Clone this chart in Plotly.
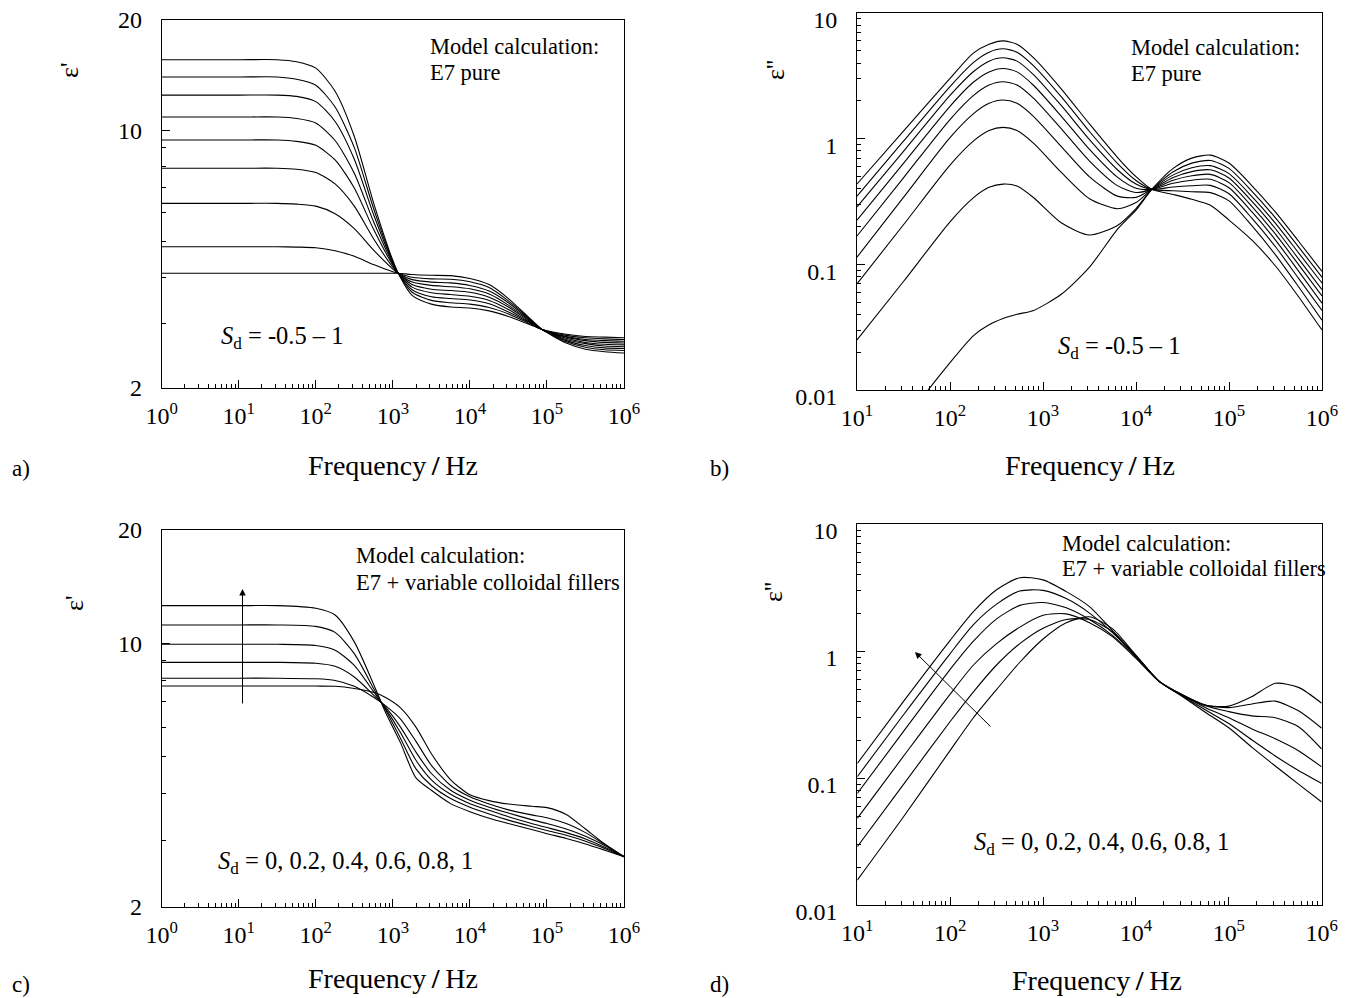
import plotly.graph_objects as go

# The page body adds an 8 px margin; the figure is sized / shifted to compensate.
OFF = 8
W, H = 1347 - OFF, 998 - OFF

# ---------------- panel a: eps' , E7 pure ----------------
freq_a = [1, 10, 31.6, 56.2, 100, 178, 316, 562, 1000, 1175, 1778, 3162, 5623, 10000,
          17783, 31623, 56234, 85114, 177828, 316228, 562341, 1000000]
a_1 = [15.6, 15.6, 15.6, 15.4, 14.8, 12.8, 9.65, 6.37, 4.44, 4.1, 3.57, 3.38, 3.32, 3.30, 3.24, 3.13, 2.99, 2.89, 2.80, 2.76, 2.75, 2.74]
a_2 = [14.0, 14.0, 14.0, 13.8, 13.3, 11.6, 9.0, 6.15, 4.41, 4.1, 3.64, 3.46, 3.41, 3.38, 3.31, 3.18, 3.01, 2.89, 2.78, 2.74, 2.72, 2.71]
a_3 = [12.5, 12.5, 12.5, 12.4, 12.0, 10.6, 8.37, 5.92, 4.38, 4.1, 3.70, 3.54, 3.50, 3.47, 3.39, 3.22, 3.03, 2.89, 2.76, 2.71, 2.69, 2.68]
a_4 = [10.9, 10.9, 10.9, 10.8, 10.5, 9.41, 7.67, 5.66, 4.35, 4.1, 3.76, 3.63, 3.59, 3.55, 3.46, 3.27, 3.04, 2.89, 2.75, 2.69, 2.66, 2.65]
a_5 = [9.44, 9.44, 9.44, 9.36, 9.13, 8.33, 6.99, 5.40, 4.31, 4.1, 3.82, 3.71, 3.68, 3.64, 3.53, 3.32, 3.06, 2.89, 2.73, 2.66, 2.63, 2.62]
a_6 = [7.91, 7.91, 7.91, 7.86, 7.70, 7.17, 6.24, 5.09, 4.26, 4.1, 3.88, 3.80, 3.77, 3.72, 3.60, 3.36, 3.08, 2.89, 2.71, 2.64, 2.60, 2.59]
a_7 = [6.35, 6.35, 6.35, 6.32, 6.24, 5.95, 5.42, 4.74, 4.21, 4.1, 3.94, 3.88, 3.86, 3.80, 3.67, 3.41, 3.10, 2.89, 2.69, 2.61, 2.57, 2.56]
a_8 = [4.84, 4.84, 4.84, 4.83, 4.81, 4.72, 4.56, 4.33, 4.14, 4.1, 4.00, 3.96, 3.95, 3.89, 3.75, 3.45, 3.12, 2.89, 2.67, 2.58, 2.54, 2.53]
a_9 = [4.1, 4.1, 4.1, 4.1, 4.1, 4.1, 4.1, 4.1, 4.1, 4.1, 4.07, 4.05, 4.04, 3.97, 3.82, 3.50, 3.13, 2.89, 2.65, 2.55, 2.51, 2.49]

# ---------------- panel b: eps'' , E7 pure ----------------
freq_b = [10, 31.6, 100, 178, 263, 372, 525, 794, 1585, 3162, 6310, 10000, 14791,
          25119, 39811, 63096, 100000, 177828, 316228, 562341, 1000000]
b_1 = [0.436, 1.15, 3.02, 4.8, 5.64, 6.0, 5.64, 4.39, 2.47, 1.31, 0.711, 0.498, 0.395, 0.36, 0.33, 0.295, 0.225, 0.155, 0.097, 0.055, 0.030]
b_2 = [0.349, 0.955, 2.60, 4.03, 4.88, 5.19, 4.88, 3.80, 2.14, 1.14, 0.637, 0.465, 0.395, 0.385, 0.378, 0.372, 0.320, 0.201, 0.119, 0.066, 0.036]
b_3 = [0.286, 0.792, 2.21, 3.41, 4.14, 4.40, 4.14, 3.22, 1.82, 0.982, 0.566, 0.435, 0.395, 0.413, 0.422, 0.425, 0.364, 0.231, 0.138, 0.077, 0.043]
b_4 = [0.225, 0.636, 1.81, 2.81, 3.40, 3.62, 3.40, 2.65, 1.50, 0.822, 0.494, 0.403, 0.395, 0.442, 0.467, 0.475, 0.407, 0.260, 0.156, 0.088, 0.049]
b_5 = [0.168, 0.488, 1.42, 2.20, 2.67, 2.84, 2.67, 2.09, 1.19, 0.663, 0.423, 0.373, 0.395, 0.467, 0.507, 0.52, 0.447, 0.287, 0.174, 0.099, 0.056]
b_6 = [0.114, 0.341, 1.02, 1.575, 1.91, 2.03, 1.91, 1.50, 0.860, 0.497, 0.349, 0.341, 0.395, 0.491, 0.547, 0.565, 0.487, 0.315, 0.192, 0.110, 0.063]
b_7 = [0.070, 0.2065, 0.616, 0.955, 1.16, 1.23, 1.16, 0.917, 0.536, 0.333, 0.277, 0.310, 0.395, 0.515, 0.587, 0.61, 0.527, 0.344, 0.212, 0.123, 0.071]
b_8 = [0.025, 0.073, 0.218, 0.338, 0.41, 0.435, 0.42, 0.339, 0.213, 0.171, 0.204, 0.278, 0.395, 0.545, 0.639, 0.67, 0.58, 0.379, 0.234, 0.137, 0.079]
b_9 = [0.0016, 0.0055, 0.0165, 0.027, 0.033, 0.037, 0.040, 0.043, 0.058, 0.095, 0.19, 0.27, 0.395, 0.58, 0.70, 0.74, 0.64, 0.42, 0.26, 0.152, 0.088]

# ---------------- panel c: eps' , E7 + fillers ----------------
freq_c = [1, 10, 31.6, 100, 178, 316, 562, 794, 1259, 1995, 3162, 5623, 10000,
          17783, 31623, 63096, 100000, 177828, 316228, 562341, 1000000]
c_1 = [12.6, 12.6, 12.6, 12.4, 11.9, 10.1, 7.8, 6.6, 5.45, 4.4, 4.08, 3.76, 3.58, 3.44, 3.33, 3.21, 3.13, 3.04, 2.94, 2.83, 2.72]
c_2 = [11.2, 11.2, 11.2, 11.1, 10.7, 9.4, 7.6, 6.7, 5.6, 4.65, 4.2, 3.88, 3.68, 3.53, 3.40, 3.27, 3.19, 3.10, 2.99, 2.86, 2.72]
c_3 = [9.95, 9.95, 9.95, 9.88, 9.6, 8.75, 7.45, 6.75, 5.8, 4.9, 4.35, 3.98, 3.76, 3.61, 3.47, 3.33, 3.25, 3.15, 3.03, 2.88, 2.72]
c_4 = [8.91, 8.91, 8.91, 8.86, 8.7, 8.15, 7.3, 6.8, 6.0, 5.15, 4.52, 4.08, 3.84, 3.68, 3.55, 3.41, 3.33, 3.22, 3.08, 2.91, 2.72]
c_5 = [8.09, 8.09, 8.09, 8.06, 7.98, 7.7, 7.2, 6.85, 6.3, 5.5, 4.75, 4.2, 3.92, 3.75, 3.62, 3.51, 3.45, 3.33, 3.15, 2.93, 2.72]
c_6 = [7.71, 7.71, 7.71, 7.71, 7.70, 7.6, 7.42, 7.2, 6.75, 6.0, 5.1, 4.35, 3.97, 3.83, 3.75, 3.70, 3.67, 3.52, 3.22, 2.94, 2.72]

# ---------------- panel d: eps'' , E7 + fillers ----------------
freq_d = [10, 31.6, 100, 178, 316, 562, 1000, 1778, 3162, 5623, 10000, 17783, 31623,
          56234, 100000, 177828, 316228, 562341, 1000000]
d_1 = [0.131, 0.405, 1.22, 2.05, 3.05, 3.80, 3.65, 2.95, 2.25, 1.45, 0.93, 0.58, 0.44, 0.33, 0.25, 0.175, 0.125, 0.09, 0.065]
d_2 = [0.103, 0.318, 0.96, 1.62, 2.35, 2.98, 3.02, 2.6, 2.0, 1.40, 0.92, 0.58, 0.445, 0.345, 0.27, 0.20, 0.15, 0.115, 0.091]
d_3 = [0.076, 0.235, 0.72, 1.2, 1.8, 2.3, 2.42, 2.2, 1.78, 1.33, 0.90, 0.58, 0.45, 0.36, 0.30, 0.245, 0.205, 0.165, 0.123]
d_4 = [0.0484, 0.150, 0.46, 0.78, 1.15, 1.55, 1.92, 1.97, 1.68, 1.30, 0.88, 0.58, 0.455, 0.372, 0.335, 0.31, 0.30, 0.255, 0.170]
d_5 = [0.0289, 0.090, 0.28, 0.48, 0.78, 1.15, 1.52, 1.78, 1.78, 1.42, 0.90, 0.58, 0.455, 0.378, 0.36, 0.385, 0.405, 0.34, 0.248]
d_6 = [0.0158, 0.050, 0.166, 0.30, 0.50, 0.82, 1.25, 1.68, 1.87, 1.50, 0.93, 0.58, 0.45, 0.375, 0.37, 0.44, 0.56, 0.52, 0.39]

# tick labels
x_ticks_a = [1, 10, 100, 1000, 10000, 100000, 1000000]
x_text_a = ["10<sup>0</sup>", "10<sup>1</sup>", "10<sup>2</sup>", "10<sup>3</sup>",
            "10<sup>4</sup>", "10<sup>5</sup>", "10<sup>6</sup>"]
x_ticks_b = [10, 100, 1000, 10000, 100000, 1000000]
x_text_b = ["10<sup>1</sup>", "10<sup>2</sup>", "10<sup>3</sup>",
            "10<sup>4</sup>", "10<sup>5</sup>", "10<sup>6</sup>"]
y_ticks_ac = [2, 10, 20]
y_text_ac = ["2", "10", "20"]
y_ticks_bd = [0.01, 0.1, 1, 10]
y_text_bd = ["0.01", "0.1", "1", "10"]

FONT = "Liberation Serif"


def minor_vals(lo_exp, hi_exp):
    vals = []
    for e in range(lo_exp, hi_exp):
        for m in range(2, 10):
            vals.append(m * 10 ** e)
    return vals


def PX(x):
    return (x - OFF) / W


def PY(y):
    return 1 - (y - OFF) / H


fig = go.Figure()

LINE = dict(color="black", width=1.1, shape="spline", smoothing=0.7)

panels = [
    ("x", "y", freq_a, [a_1, a_2, a_3, a_4, a_5, a_6, a_7, a_8, a_9]),
    ("x2", "y2", freq_b, [b_1, b_2, b_3, b_4, b_5, b_6, b_7, b_8, b_9]),
    ("x3", "y3", freq_c, [c_1, c_2, c_3, c_4, c_5, c_6]),
    ("x4", "y4", freq_d, [d_1, d_2, d_3, d_4, d_5, d_6]),
]
for xa, ya, fr, curves in panels:
    for cv in curves:
        fig.add_trace(go.Scatter(x=fr, y=cv, mode="lines", line=LINE, xaxis=xa, yaxis=ya,
                                 showlegend=False, hoverinfo="skip"))


def xdom(x0, x1):
    return [PX(x0), PX(x1)]


def ydom(y0, y1):
    return [PY(y1), PY(y0)]


def axis_common():
    return dict(type="log", showline=True, linecolor="black", linewidth=1, mirror=True,
                ticks="inside", ticklen=8, tickwidth=1, tickcolor="black",
                showgrid=False, zeroline=False, automargin=False,
                ticklabeloverflow="allow",
                tickfont=dict(family=FONT, size=24, color="black"))


def xaxis(dom, ticks, texts, rng, anchor, lo, hi):
    d = axis_common()
    d.update(domain=dom, tickmode="array", tickvals=ticks, ticktext=texts, range=rng,
             anchor=anchor, ticklabelstandoff=6,
             minor=dict(ticks="inside", ticklen=4, tickwidth=1, tickcolor="black",
                        tickmode="array", tickvals=minor_vals(lo, hi), showgrid=False))
    return d


def yaxis(dom, ticks, texts, rng, anchor, mvals, shift=0):
    d = axis_common()
    d.update(domain=dom, tickmode="array", tickvals=ticks, ticktext=texts, range=rng,
             anchor=anchor, ticklabelstandoff=14, ticklabelshift=shift,
             minor=dict(ticks="inside", ticklen=4, tickwidth=1, tickcolor="black",
                        tickmode="array", tickvals=mvals, showgrid=False))
    return d


LOG2 = 0.30103
LOG20 = 1.30103
fig.update_layout(
    xaxis=xaxis(xdom(161.7, 624), x_ticks_a, x_text_a, [0, 6], "y", 0, 6),
    yaxis=yaxis(ydom(20, 388), y_ticks_ac, y_text_ac, [LOG2, LOG20], "x", [3, 4, 5, 6, 7, 8, 9]),
    xaxis2=xaxis(xdom(857, 1322), x_ticks_b, x_text_b, [1, 6], "y2", 1, 6),
    yaxis2=yaxis(ydom(13, 390), y_ticks_bd, y_text_bd, [-2, 1], "x2", minor_vals(-2, 1), shift=7),
    xaxis3=xaxis(xdom(161.7, 624), x_ticks_a, x_text_a, [0, 6], "y3", 0, 6),
    yaxis3=yaxis(ydom(530, 907), y_ticks_ac, y_text_ac, [LOG2, LOG20], "x3", [3, 4, 5, 6, 7, 8, 9]),
    xaxis4=xaxis(xdom(857.3, 1321.7), x_ticks_b, x_text_b, [1, 6], "y4", 1, 6),
    yaxis4=yaxis(ydom(524.3, 905.3), y_ticks_bd, y_text_bd, [-2, 1], "x4", minor_vals(-2, 1), shift=6),
)

annots = []


def txt(x, y, s, size=22.5, xanchor="left", yanchor="middle", angle=0):
    annots.append(dict(x=PX(x), y=PY(y), xref="paper", yref="paper", text=s,
                       showarrow=False, xanchor=xanchor, yanchor=yanchor, textangle=angle,
                       font=dict(family=FONT, size=size, color="black")))


FREQ_LABEL = "Frequency\u2009<b>/</b>\u2009Hz"
SD_A = "<i>S</i><sub>d</sub> = -0.5 \u2013 1"
SD_C = "<i>S</i><sub>d</sub> = 0, 0.2, 0.4, 0.6, 0.8, 1"

# panel a
txt(428, 46, "Model calculation:")
txt(428, 73, "E7 pure")
txt(219, 337, SD_A, size=24.5)
txt(70, 70, "\u03b5'", size=26, xanchor="center", angle=-90)
txt(393, 465, FREQ_LABEL, size=28, xanchor="center")
txt(10, 468, "a)", size=23)
# panel b
txt(1129, 47, "Model calculation:")
txt(1129, 74, "E7 pure")
txt(1056, 347, SD_A, size=24.5)
txt(776, 70, "\u03b5''", size=26, xanchor="center", angle=-90)
txt(1090, 465, FREQ_LABEL, size=28, xanchor="center")
txt(708, 468, "b)", size=23)
# panel c
txt(354, 555, "Model calculation:")
txt(354, 582, "E7 + variable colloidal fillers")
txt(216, 862, SD_C, size=24.5)
txt(74, 603, "\u03b5'", size=26, xanchor="center", angle=-90)
txt(393, 978, FREQ_LABEL, size=28, xanchor="center")
txt(10, 984, "c)", size=23)
# panel d
txt(1060, 543, "Model calculation:")
txt(1060, 568, "E7 + variable colloidal fillers")
txt(972, 843, SD_C, size=24.5)
txt(773, 592, "\u03b5''", size=26, xanchor="center", angle=-90)
txt(1097, 980, FREQ_LABEL, size=28, xanchor="center")
txt(708, 984, "d)", size=23)

# arrows
annots.append(dict(x=PX(242.5), y=PY(589), xref="paper", yref="paper",
                   ax=0, ay=116, axref="pixel", ayref="pixel", text="", showarrow=True,
                   arrowhead=2, arrowsize=1.3, arrowwidth=1, arrowcolor="black"))
annots.append(dict(x=PX(915), y=PY(652), xref="paper", yref="paper",
                   ax=77, ay=76, axref="pixel", ayref="pixel", text="", showarrow=True,
                   arrowhead=2, arrowsize=1.3, arrowwidth=1, arrowcolor="black"))

fig.update_layout(annotations=annots, width=W, height=H,
                  margin=dict(l=0, r=0, t=0, b=0, pad=0, autoexpand=False),
                  paper_bgcolor="white", plot_bgcolor="white")

fig.write_html("out.html")
